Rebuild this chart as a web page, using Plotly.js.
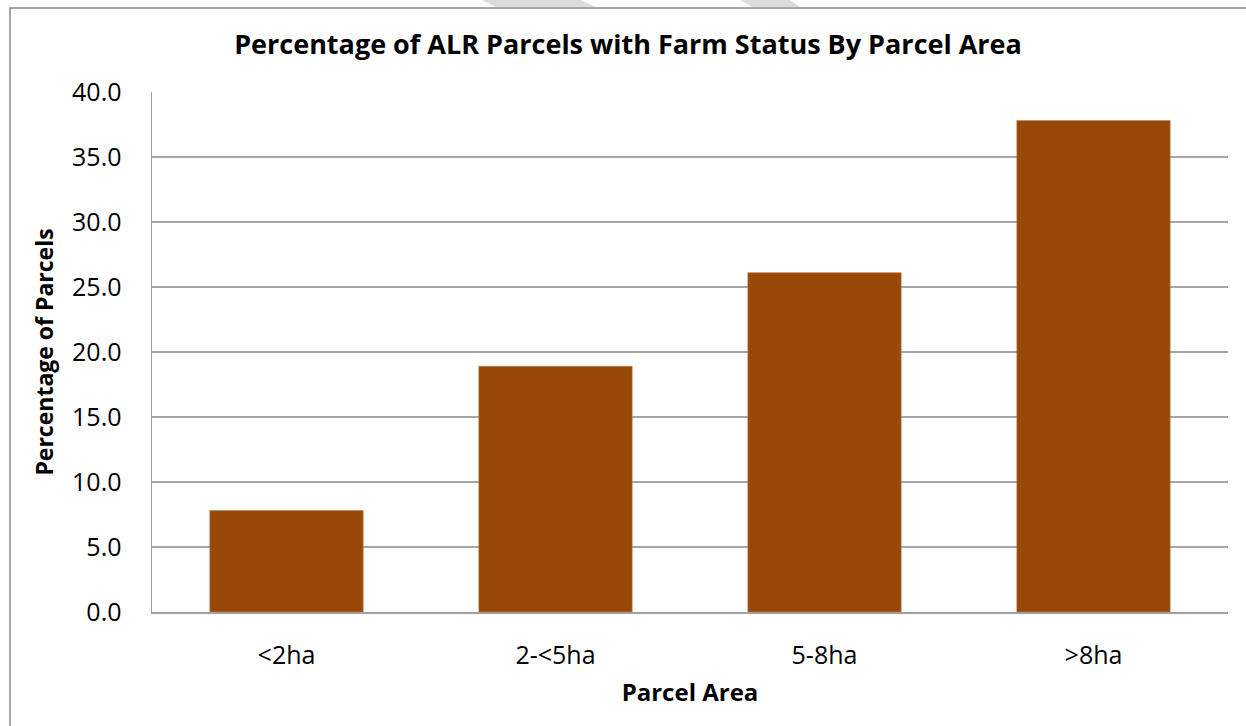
<!DOCTYPE html>
<html>
<head>
<meta charset="utf-8">
<script src="https://cdn.plot.ly/plotly-3.0.1.min.js"></script>
<style>
html,body{margin:0;padding:0;background:#fff;}
#chart{width:1246px;height:726px;}
</style>
</head>
<body>
<div id="chart"></div>
<script>
const categories = ["<2ha", "2-<5ha", "5-8ha", ">8ha"];
const percentages = [7.8, 18.9, 26.1, 37.8];
const yTickValues = [0, 5, 10, 15, 20, 25, 30, 35, 40];

const W = 1246, H = 726;
const M = {l: 152, r: 18, t: 92, b: 114};
const pw = W - M.l - M.r, ph = H - M.t - M.b;
const px = x => (x - M.l) / pw;
const py = y => (H - M.b - y) / ph;

function poly(pts) {
  return 'M' + pts.map(p => px(p[0]) + ',' + py(p[1])).join(' L') + ' Z';
}

const FONT = '"Open Sans", "Liberation Sans", sans-serif';

const trace = {
  type: 'bar',
  x: categories,
  y: percentages,
  marker: {color: '#984807', line: {color: '#b87a4b', width: 0.6}},
  hoverinfo: 'x+y'
};

const layout = {
  width: W, height: H,
  margin: M,
  paper_bgcolor: '#ffffff',
  plot_bgcolor: '#ffffff',
  showlegend: false,
  bargap: 0.43,
  font: {family: FONT, color: '#000', size: 25},
  title: {
    text: '<b>Percentage of ALR Parcels with Farm Status By Parcel Area</b>',
    font: {family: FONT, size: 27, color: '#000'},
    xref: 'container', x: 628 / W, xanchor: 'center',
    yref: 'container', y: 1 - 45 / H, yanchor: 'middle'
  },
  xaxis: {
    type: 'category',
    showgrid: false,
    showline: true, linecolor: '#a0a0a0', linewidth: 1.5,
    ticks: '',
    tickfont: {family: FONT, size: 25, color: '#000'},
    ticklabelstandoff: 20,
    title: {text: '<b>Parcel Area</b>', font: {family: FONT, size: 24, color: '#000'}, standoff: 14},
    fixedrange: true
  },
  yaxis: {
    range: [0, 40],
    tickvals: yTickValues,
    tickformat: '.1f',
    showgrid: true, gridcolor: '#a6a6a6', gridwidth: 1.3,
    zeroline: false,
    showline: true, linecolor: '#a0a0a0', linewidth: 1.5,
    ticks: '',
    tickfont: {family: FONT, size: 25, color: '#000'},
    ticklabelstandoff: 24,
    title: {text: '<b>Percentage of Parcels</b>', font: {family: FONT, size: 23, color: '#000'}, standoff: 12},
    fixedrange: true
  },
  shapes: [
    {type: 'rect', xref: 'paper', yref: 'paper', layer: 'below',
     x0: px(10), x1: px(W + 20), y0: py(H + 20), y1: py(8),
     line: {color: '#8c8c8c', width: 1.5}, fillcolor: 'rgba(0,0,0,0)'},
    {type: 'path', xref: 'paper', yref: 'paper', layer: 'above', line: {width: 0},
     fillcolor: '#dcdcdc', path: poly([[482, 0], [530, 0], [544, 7], [496, 7]])},
    {type: 'path', xref: 'paper', yref: 'paper', layer: 'above', line: {width: 0},
     fillcolor: '#dcdcdc', path: poly([[528, 0], [580, 0], [596, 7], [544, 7]])},
    {type: 'path', xref: 'paper', yref: 'paper', layer: 'above', line: {width: 0},
     fillcolor: '#dcdcdc', path: poly([[740, 0], [790, 0], [800, 7], [752, 7]])}
  ]
};

Plotly.newPlot('chart', [trace], layout, {displayModeBar: false, staticPlot: true});
</script>
</body>
</html>
